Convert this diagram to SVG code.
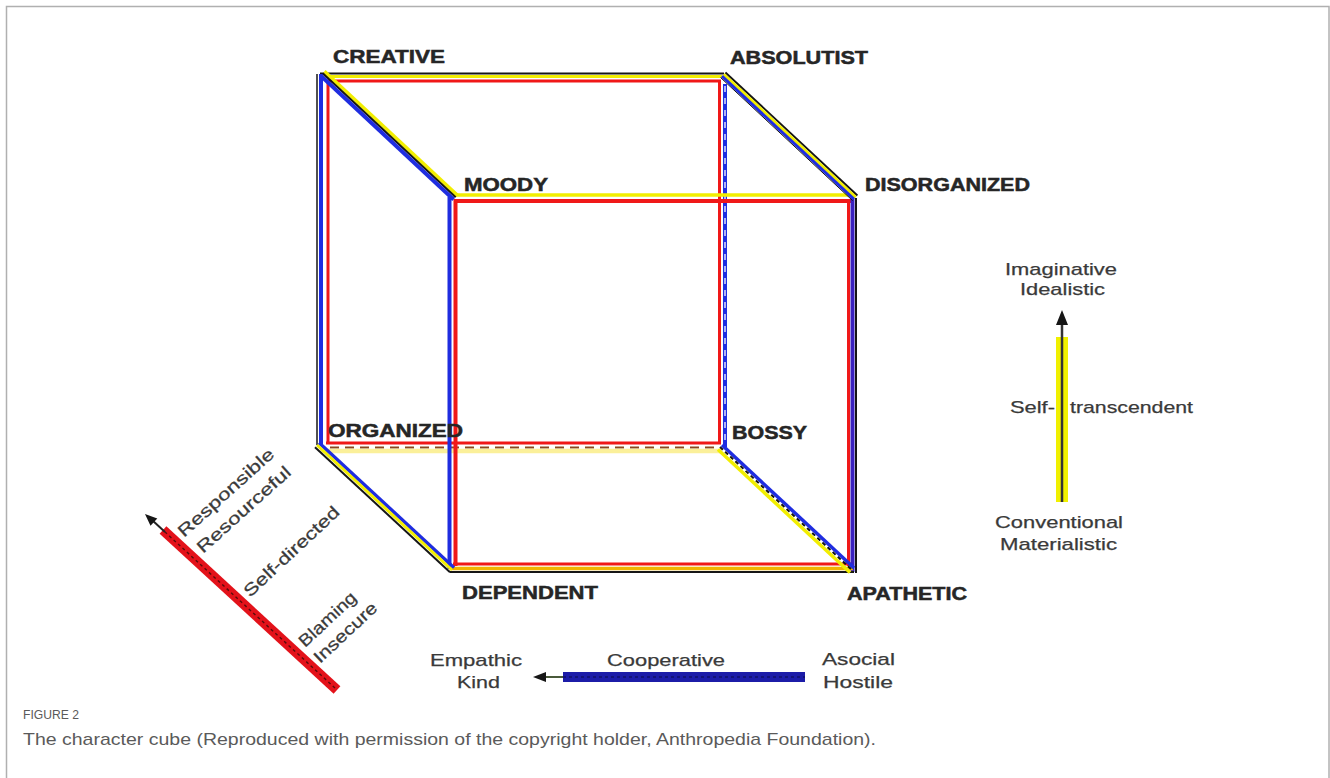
<svg xmlns="http://www.w3.org/2000/svg" width="1330" height="778" viewBox="0 0 1330 778">
  <style>
    .lbl { font-family: "Liberation Sans", Arial, sans-serif; font-weight: bold; font-size: 18px; fill: #262626; stroke: #262626; stroke-width: 0.5px; }
    .ax { font-family: "Liberation Sans", Arial, sans-serif; font-size: 17px; fill: #3a3a3a; stroke: #3a3a3a; stroke-width: 0.25px; }
    .cap { font-family: "Liberation Sans", Arial, sans-serif; fill: #5a5a5a; }
    .e { fill: none; stroke-linecap: butt; }
    .k { stroke: #161616; }
    .y { stroke: #f2ee00; }
    .b { stroke: #1f2de0; }
    .r { stroke: #f01818; }
  </style>

  <!-- page frame -->
  <rect x="6.5" y="6.5" width="1322.5" height="820" fill="#ffffff" stroke="#b0b0b0" stroke-width="1.5"/>

  <!-- cube edges -->
  <g id="connectors">
    <!-- back face: CREATIVE - ABSOLUTIST - BOSSY - ORGANIZED -->
    <line class="e k" x1="320" y1="73.5" x2="724" y2="73.5" stroke-width="1.8"/>
    <line class="e y" x1="322" y1="76.5" x2="722" y2="76.5" stroke-width="3"/>
    <line class="e r" x1="326" y1="81" x2="721" y2="81" stroke-width="3"/>

    <line class="e k" x1="317" y1="74" x2="317" y2="445" stroke-width="1.5"/>
    <line class="e b" x1="321" y1="74" x2="321" y2="444" stroke-width="4"/>
    <line class="e r" x1="328" y1="80" x2="328" y2="444" stroke-width="3"/>

    <line class="e r" x1="719.5" y1="80" x2="719.5" y2="444" stroke-width="3"/>
    <line class="e b" x1="725" y1="84" x2="725" y2="447" stroke-width="4"/>
    <line class="e" x1="725" y1="86" x2="725" y2="445" stroke="#ffffff" stroke-width="1.3" stroke-dasharray="6 6"/>

    <line class="e r" x1="326" y1="443" x2="721" y2="443" stroke="#d02424" stroke-width="3"/>
    <line class="e" x1="330" y1="447.5" x2="720" y2="447.5" stroke="#8a4a20" stroke-width="2" stroke-dasharray="9 6"/>
    <line class="e" x1="320" y1="451" x2="722" y2="451" stroke="#fbf09a" stroke-width="4.5"/>

    <!-- front face: MOODY - DISORGANIZED - APATHETIC - DEPENDENT -->
    <line class="e y" x1="453" y1="195" x2="855" y2="195" stroke-width="3.5"/>
    <line class="e r" x1="454" y1="201" x2="851" y2="201" stroke="#d41a1a" stroke-width="4"/>

    <line class="e b" x1="449.5" y1="197" x2="449.5" y2="569" stroke-width="4"/>
    <line class="e r" x1="455.5" y1="199" x2="455.5" y2="566" stroke-width="4"/>

    <line class="e r" x1="848.5" y1="199" x2="848.5" y2="566" stroke="#e01a3a" stroke-width="3"/>
    <line class="e" x1="852.5" y1="198" x2="852.5" y2="572" stroke="#3a22c0" stroke-width="4"/>
    <line class="e k" x1="856" y1="198" x2="856" y2="573" stroke-width="2"/>

    <line class="e r" x1="453" y1="564" x2="851" y2="564" stroke="#e0203a" stroke-width="3"/>
    <line class="e" x1="451" y1="568.5" x2="853" y2="568.5" stroke="#f0b400" stroke-width="3.5"/>
    <line class="e k" x1="450" y1="572" x2="854" y2="572" stroke-width="2"/>

    <!-- receding edges -->
    <line class="e y" x1="324.4" y1="71.4" x2="457.4" y2="195.4" stroke-width="3.5"/>
    <line class="e k" x1="322.7" y1="73.3" x2="455.7" y2="197.3" stroke-width="2"/>
    <line class="e b" x1="320.6" y1="75.5" x2="453.6" y2="199.5" stroke-width="4"/>

    <line class="e k" x1="725.4" y1="72.4" x2="857.4" y2="195.4" stroke-width="2"/>
    <line class="e y" x1="723.7" y1="74.3" x2="855.7" y2="197.3" stroke-width="3"/>
    <line class="e b" x1="721.9" y1="76.1" x2="853.9" y2="199.1" stroke-width="3"/>
    <line class="e k" x1="720.6" y1="77.6" x2="852.6" y2="200.6" stroke-width="1"/>

    <line class="e b" x1="319" y1="442.8" x2="454" y2="567.8" stroke-width="3.5"/>
    <line class="e y" x1="317" y1="445" x2="452" y2="570" stroke-width="3"/>
    <line class="e k" x1="315" y1="447.2" x2="450" y2="572.2" stroke-width="2"/>

    <line class="e b" x1="722" y1="445" x2="854" y2="568" stroke-width="3.5"/>
    <line class="e k" x1="720" y1="447" x2="852" y2="570" stroke-width="2" stroke-dasharray="4 3"/>
    <line class="e y" x1="718" y1="449.5" x2="850" y2="572.5" stroke-width="3.5"/>
  </g>

  <!-- corner labels -->
  <g id="creative"><text class="lbl" x="333" y="63" textLength="112" lengthAdjust="spacingAndGlyphs">CREATIVE</text></g>
  <g id="absolutist"><text class="lbl" x="730" y="64" textLength="138" lengthAdjust="spacingAndGlyphs">ABSOLUTIST</text></g>
  <g id="moody"><text class="lbl" x="464" y="191" textLength="84" lengthAdjust="spacingAndGlyphs">MOODY</text></g>
  <g id="disorganized"><text class="lbl" x="865" y="191" textLength="165" lengthAdjust="spacingAndGlyphs">DISORGANIZED</text></g>
  <g id="organized"><text class="lbl" x="328" y="437" textLength="135" lengthAdjust="spacingAndGlyphs">ORGANIZED</text></g>
  <g id="bossy"><text class="lbl" x="732" y="439" textLength="75" lengthAdjust="spacingAndGlyphs">BOSSY</text></g>
  <g id="dependent"><text class="lbl" x="462" y="599" textLength="136" lengthAdjust="spacingAndGlyphs">DEPENDENT</text></g>
  <g id="apathetic"><text class="lbl" x="847" y="600" textLength="120" lengthAdjust="spacingAndGlyphs">APATHETIC</text></g>

  <!-- character axis: diagonal (self-directedness) -->
  <g id="axis-self-directed">
    <line x1="337" y1="690" x2="163" y2="530" stroke="#e3121a" stroke-width="10"/>
    <line x1="335" y1="688" x2="165" y2="532" stroke="#5a0c0c" stroke-width="1.4" stroke-dasharray="3 3"/>
    <line x1="165" y1="532" x2="152" y2="520" stroke="#222" stroke-width="2"/>
    <polygon points="145,514 150.5,525.8 157.3,518.4" fill="#161616"/>
    <text class="ax" transform="translate(184,538) rotate(-42)" textLength="123" lengthAdjust="spacingAndGlyphs">Responsible</text>
    <text class="ax" transform="translate(203,554) rotate(-42)" textLength="120" lengthAdjust="spacingAndGlyphs">Resourceful</text>
    <text class="ax" transform="translate(250,598) rotate(-43)" textLength="124" lengthAdjust="spacingAndGlyphs">Self-directed</text>
    <text class="ax" transform="translate(305,648) rotate(-43)" textLength="72" lengthAdjust="spacingAndGlyphs">Blaming</text>
    <text class="ax" transform="translate(320,664) rotate(-43)" textLength="80" lengthAdjust="spacingAndGlyphs">Insecure</text>
  </g>

  <!-- character axis: horizontal (cooperativeness) -->
  <g id="axis-cooperative">
    <rect x="563" y="672" width="242" height="10" fill="#1c1ca8"/>
    <line x1="563" y1="677" x2="805" y2="677" stroke="#10106a" stroke-width="1.5" stroke-dasharray="3 3"/>
    <line x1="545" y1="677" x2="563" y2="677" stroke="#4a5a3a" stroke-width="2"/>
    <polygon points="533,677 546,672 546,682" fill="#161616"/>
    <text class="ax" x="430" y="666" textLength="92" lengthAdjust="spacingAndGlyphs">Empathic</text>
    <text class="ax" x="457" y="688" textLength="43" lengthAdjust="spacingAndGlyphs">Kind</text>
    <text class="ax" x="607" y="666" textLength="118" lengthAdjust="spacingAndGlyphs">Cooperative</text>
    <text class="ax" x="822" y="665" textLength="73" lengthAdjust="spacingAndGlyphs">Asocial</text>
    <text class="ax" x="823" y="688" textLength="70" lengthAdjust="spacingAndGlyphs">Hostile</text>
  </g>

  <!-- character axis: vertical (self-transcendence) -->
  <g id="axis-self-transcendent">
    <rect x="1056" y="337" width="12" height="165" fill="#f0f000"/>
    <line x1="1062" y1="324" x2="1062" y2="502" stroke="#333" stroke-width="2.5"/>
    <polygon points="1062,310 1056,325 1068,325" fill="#161616"/>
    <text class="ax" x="1005" y="275" textLength="112" lengthAdjust="spacingAndGlyphs">Imaginative</text>
    <text class="ax" x="1020" y="295" textLength="85" lengthAdjust="spacingAndGlyphs">Idealistic</text>
    <text class="ax" x="1010" y="413" textLength="45" lengthAdjust="spacingAndGlyphs">Self-</text>
    <text class="ax" x="1070" y="413" textLength="123" lengthAdjust="spacingAndGlyphs">transcendent</text>
    <text class="ax" x="995" y="528" textLength="128" lengthAdjust="spacingAndGlyphs">Conventional</text>
    <text class="ax" x="1000" y="550" textLength="117" lengthAdjust="spacingAndGlyphs">Materialistic</text>
  </g>

  <!-- figure caption -->
  <g id="caption">
    <text class="cap" x="23" y="719" font-size="13" fill="#505050" textLength="56" lengthAdjust="spacingAndGlyphs">FIGURE 2</text>
    <text class="cap" x="23" y="745" font-size="17" textLength="853" lengthAdjust="spacingAndGlyphs">The character cube (Reproduced with permission of the copyright holder, Anthropedia Foundation).</text>
  </g>
</svg>
